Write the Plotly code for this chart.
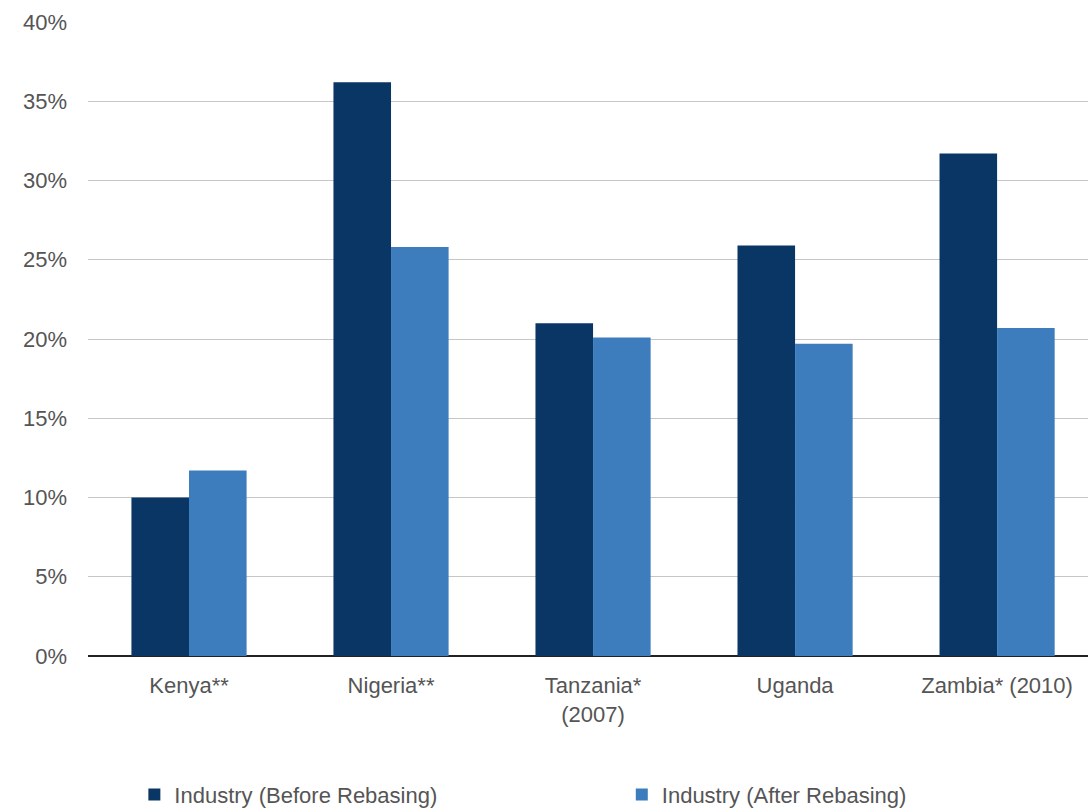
import plotly.graph_objects as go

categories = ["Kenya**", "Nigeria**", "Tanzania*<br>(2007)", "Uganda", "Zambia* (2010)"]
before = [10.0, 36.2, 21.0, 25.9, 31.7]
after = [11.7, 25.8, 20.1, 19.7, 20.7]
series_names = ["Industry (Before Rebasing)", "Industry (After Rebasing)"]
y_ticks = [0, 5, 10, 15, 20, 25, 30, 35, 40]
y_tick_labels = ["0%", "5%", "10%", "15%", "20%", "25%", "30%", "35%", "40%"]

fig = go.Figure()
fig.add_trace(go.Bar(x=categories, y=before, name=series_names[0], legend="legend",
                     marker=dict(color="#0a3666", line=dict(width=0))))
fig.add_trace(go.Bar(x=categories, y=after, name=series_names[1], legend="legend2",
                     marker=dict(color="#3d7dbd", line=dict(width=0))))

font_family = "Liberation Sans, Arial, sans-serif"
legend_common = dict(orientation="h", xref="container", yref="container",
                     xanchor="left", yanchor="middle", y=0.02,
                     font=dict(size=22, color="#555555"), itemwidth=30,
                     bgcolor="rgba(0,0,0,0)")
fig.update_layout(
    width=1088, height=811,
    margin=dict(l=88, r=0, t=22, b=155, autoexpand=False),
    paper_bgcolor="white", plot_bgcolor="white",
    barmode="group", bargap=0.43, bargroupgap=0,
    font=dict(family=font_family, size=22, color="#555555"),
    showlegend=True,
    legend=dict(x=0.1235, **legend_common),
    legend2=dict(x=0.5715, **legend_common),
    xaxis=dict(range=[-0.5, 4.45], showgrid=False, showline=False, ticks="",
               ticklabelstandoff=14,
               tickfont=dict(size=22, color="#555555")),
    yaxis=dict(range=[0, 40], tickvals=y_ticks, ticktext=y_tick_labels,
               showgrid=True, gridcolor="#c6c6c6", gridwidth=1,
               zeroline=True, zerolinecolor="#222222", zerolinewidth=2,
               showline=False, ticks="", ticklabelstandoff=20,
               tickfont=dict(size=22, color="#555555")),
)

fig.write_html("out.html")
